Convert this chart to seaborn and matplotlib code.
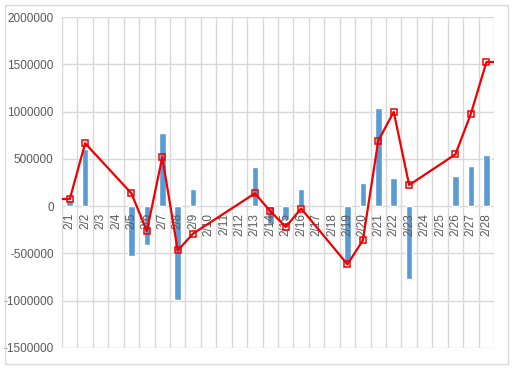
import numpy as np
import pandas as pd
import matplotlib
matplotlib.use("Agg")
import matplotlib.pyplot as plt
import seaborn as sns
from matplotlib.patches import Rectangle

categories = ['2/1', '2/2', '2/3', '2/4', '2/5', '2/6', '2/7', '2/8', '2/9', '2/10',
              '2/11', '2/12', '2/13', '2/14', '2/15', '2/16', '2/17', '2/18', '2/19',
              '2/20', '2/21', '2/22', '2/23', '2/24', '2/25', '2/26', '2/27', '2/28']

nan = np.nan
bar_values = [60000, 600000, nan, nan, -530000, -415000, 775000, -990000, 180000, nan,
              nan, nan, 410000, -190000, -150000, 180000, nan, nan, -590000,
              245000, 1040000, 295000, -770000, nan, nan, 315000, 420000, 540000]

line_values = [72000, 665000, nan, nan, 135000, -265000, 518000, -468000, -290000, nan,
               nan, nan, 135000, -53000, -220000, -25000, nan, nan, -615000,
               -362000, 692000, 997000, 223000, nan, nan, 548000, 976000, 1520000]

# line continues beyond the visible category range on both sides
line_lead = 72000
line_tail = 1520000

y_ticks = [-1500000, -1000000, -500000, 0, 500000, 1000000, 1500000, 2000000]
y_tick_labels = ['-1500000', '-1000000', '-500000', '0', '500000', '1000000', '1500000', '2000000']

BAR_COLOR = '#5B9BD5'
LINE_COLOR = '#F00000'
GRID_COLOR = '#D9D9D9'
TEXT_COLOR = '#595959'

sns.set_theme(style='white')
plt.rcParams['font.family'] = ['Liberation Sans', 'DejaVu Sans']

df = pd.DataFrame({'date': categories, 'bar': bar_values, 'line': line_values})
df['pos'] = np.arange(len(categories))

fig = plt.figure(figsize=(5.12, 3.68), dpi=100)
fig.patch.set_facecolor('white')
fig.patches.append(Rectangle((4.5 / 512, 4.5 / 368), 503.5 / 512, 359 / 368,
                             transform=fig.transFigure, fill=False,
                             edgecolor=GRID_COLOR, linewidth=1.0))

ax = fig.add_axes([62 / 512, 20 / 368, 432 / 512, 331 / 368])

sns.barplot(data=df, x='date', y='bar', order=categories, color=BAR_COLOR,
            width=0.42, saturation=1, ax=ax, zorder=2)

ld = df.dropna(subset=['line'])
xs = list(ld['pos'])
ys = list(ld['line'])
ax.plot([xs[0] - 1, xs[0]], [line_lead, ys[0]], color=LINE_COLOR, lw=1.6, zorder=3,
        solid_capstyle='butt')
ax.plot([xs[-1], xs[-1] + 1], [ys[-1], line_tail], color=LINE_COLOR, lw=1.6, zorder=3,
        solid_capstyle='butt')
sns.lineplot(data=ld, x='pos', y='line', ax=ax, color=LINE_COLOR, lw=1.6,
             marker='s', markersize=5, markerfacecolor='none',
             markeredgecolor=LINE_COLOR, markeredgewidth=1.1, zorder=4,
             estimator=None, sort=False)

ax.set_xlim(-0.5, len(categories) - 0.5)
ax.set_ylim(-1500000, 2000000)
ax.set_yticks(y_ticks)
ax.set_yticklabels(y_tick_labels)
ax.set_xticks(np.arange(len(categories)))
ax.set_xticklabels(categories)

# gridlines drawn beneath the bars; axis (tick labels) drawn above bars
ax.grid(False)
for yv in y_ticks:
    ax.axhline(yv, color=GRID_COLOR, lw=1.0, zorder=0.5)
for xv in np.arange(len(categories) + 1) - 0.5:
    ax.axvline(xv, color=GRID_COLOR, lw=1.0, zorder=0.5)
ax.set_axisbelow(False)

for side in ['top', 'right', 'left', 'bottom']:
    ax.spines[side].set_visible(False)

ax.spines['bottom'].set_position(('data', 0))

ax.tick_params(axis='x', which='both', length=0, pad=5, labelsize=8.5,
               labelcolor=TEXT_COLOR, labelrotation=90)
ax.tick_params(axis='y', which='both', length=0, pad=6, labelsize=8.5, labelcolor=TEXT_COLOR)
for lbl in ax.get_xticklabels():
    lbl.set_rotation(90)
    lbl.set_ha('center')
    lbl.set_va('top')
ax.set_xlabel('')
ax.set_ylabel('')

fig.savefig('out.png', dpi=100, facecolor='white')
